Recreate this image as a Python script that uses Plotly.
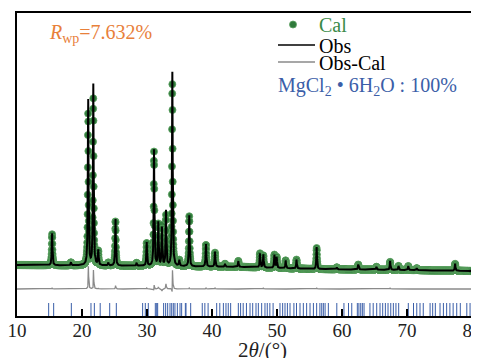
import numpy as np
import plotly.graph_objects as go

# ---- data (y in plot units above the bottom frame) ----
peak_pos = [15.40, 18.30, 20.95, 21.74, 22.50, 24.05, 25.15, 28.40, 29.95, 31.08,
            31.74, 32.30, 32.92, 33.90, 34.97, 36.50, 39.07, 40.46, 42.00, 44.05,
            47.38, 47.90, 49.60, 49.95, 51.33, 53.00, 56.10, 59.20, 62.50, 65.30,
            67.40, 68.70, 70.20, 71.50, 77.40]
obs_height = [32, 3, 170, 181, 15, 3, 48, 3, 24, 116,
              43, 38, 55, 194, 6, 51, 23, 15, 3, 6,
              14, 13, 13, 11, 8, 9, 22, 2, 5, 3,
              9, 4, 4, 2, 7]
cal_pos = [15.40, 18.30, 20.945, 21.736, 22.50, 24.05, 25.148, 28.40, 29.95, 31.078,
           31.74, 32.30, 32.92, 33.895, 34.97, 36.50, 39.07, 40.46, 42.00, 44.05,
           47.38, 47.90, 49.60, 49.95, 51.33, 53.00, 56.10, 59.20, 62.50, 65.30,
           67.40, 68.70, 70.20, 71.50, 77.40]
cal_height = [31, 3, 152, 167, 14, 3, 45, 3, 23, 114,
              41, 40, 50, 183, 6, 50, 22, 14, 3, 6,
              14, 12, 13, 11, 8, 9, 21, 2, 5, 3,
              8, 4, 4, 2, 7]
bg_x = [10, 30, 45, 55, 70, 80]
bg_y = [51, 50, 49, 47, 46, 45]
diff_offset = 27
bragg_pos = [14.87, 15.64, 18.36, 21.38, 21.90, 22.80, 24.26, 25.28, 29.33, 29.74,
             30.20, 31.28, 31.49, 31.64, 32.56, 32.87, 33.18, 33.54, 33.80, 34.05,
             34.30, 34.67, 35.08, 35.33, 35.90, 36.00, 36.72, 38.50, 38.90, 39.40,
             40.72, 41.20, 41.75, 42.15, 42.50, 42.87, 44.05, 44.40, 44.80, 45.30,
             45.85, 46.26, 46.77, 47.13, 47.64, 48.15, 48.50, 48.90, 49.40, 50.46,
             50.87, 51.23, 51.60, 52.00, 52.60, 53.00, 53.54, 54.05, 54.56, 55.08,
             55.60, 56.10, 56.60, 56.88, 57.13, 57.40, 57.90, 59.20, 60.30, 61.00,
             61.50, 62.36, 62.60, 62.88, 63.13, 63.39, 64.30, 64.80, 65.34, 65.85,
             66.26, 66.67, 67.08, 67.50, 67.90, 68.30, 68.72, 70.20, 71.00, 71.50,
             72.00, 72.50, 73.55, 73.95, 74.36, 75.08, 75.60, 76.10, 76.60, 77.10,
             77.65, 78.20, 79.20, 79.70]
bragg_len = 13
x_ticks = [10, 20, 30, 40, 50, 60, 70, 80]
legend_labels = ["Cal", "Obs", "Obs-Cal"]

# ---- profiles on the measurement grid ----
fwhm = 0.12
tt = np.arange(10.0, 80.0001, 0.02)
bg = np.interp(tt, bg_x, bg_y)

def profile(positions, heights):
    y = bg.copy()
    for p, h in zip(positions, heights):
        y += h / (1.0 + (2.0 * (tt - p) / fwhm) ** 2)
    return y

obs = profile(peak_pos, obs_height)
cal = profile(cal_pos, cal_height)
diff = obs - cal + diff_offset

bx, by = [], []
for p in bragg_pos:
    bx += [p, p, None]
    by += [0, bragg_len, None]

serif = "Liberation Serif"
GREEN = "#2f7a3b"

fig = go.Figure()
fig.add_trace(go.Scatter(
    x=tt, y=cal, mode="markers", name=legend_labels[0], showlegend=False,
    marker=dict(size=7, color=GREEN, line=dict(color="rgba(90,160,95,0.8)", width=1))))
fig.add_trace(go.Scatter(x=tt, y=obs, mode="lines", name=legend_labels[1],
                         showlegend=False, line=dict(color="black", width=2)))
fig.add_trace(go.Scatter(x=tt, y=diff, mode="lines", name=legend_labels[2],
                         showlegend=False, line=dict(color="#8a8a8a", width=1.3)))
fig.add_trace(go.Scatter(x=bx, y=by, mode="lines", showlegend=False,
                         line=dict(color="#3a5ea8", width=1)))

# page places the figure 8px in from the top-left (body margin);
# plot area in window pixels: x 17..472, y 13..316
def px(x):
    return (x - 17) / 455.0

def py(y):
    return (316 - y) / 303.0

shapes = [
    dict(type="circle", xref="paper", yref="paper", x0=px(289.5), x1=px(296.5),
         y0=py(28), y1=py(21), fillcolor=GREEN, line=dict(color="rgba(90,160,95,0.8)", width=1)),
    dict(type="line", xref="paper", yref="paper", x0=px(278), x1=px(315),
         y0=py(45), y1=py(45), line=dict(color="black", width=1.6)),
    dict(type="line", xref="paper", yref="paper", x0=px(278), x1=px(315),
         y0=py(62), y1=py(62), line=dict(color="#8a8a8a", width=1.3)),
]

def label(text, x, y, color, size=20, xanchor="left"):
    return dict(text=text, x=px(x), y=py(y), xref="paper", yref="paper",
                xanchor=xanchor, yanchor="middle", showarrow=False,
                font=dict(size=size, family=serif, color=color))

annotations = [
    label(legend_labels[0], 317, 25, "#3a8a48"),
    label(legend_labels[1], 317, 46, "black"),
    label(legend_labels[2], 317, 63, "black"),
    label("MgCl<sub>2</sub> • 6H<sub>2</sub>O : 100%", 276, 86, "#3b5ea8", size=20),
    label("<i>R</i><sub>wp</sub>=7.632%", 47, 33, "#e8803a", size=20),
    label("2<i>θ</i>/(°)", 262, 350, "#222", size=21, xanchor="center"),
]

fig.update_layout(
    width=471, height=350,
    margin=dict(l=9, r=7, t=5, b=42, autoexpand=False),
    paper_bgcolor="white", plot_bgcolor="white",
    font=dict(family=serif, size=18, color="black"),
    showlegend=False,
    xaxis=dict(range=[10, 80], tickvals=x_ticks, ticks="inside", ticklen=7,
               tickwidth=1.5, tickcolor="black", showline=True, linecolor="black",
               linewidth=1.5, mirror=True, showgrid=False, zeroline=False,
               automargin=False, ticklabeloverflow="allow", ticklabelstandoff=-4,
               tickfont=dict(size=19, family=serif, color="#222")),
    yaxis=dict(range=[0, 303], showticklabels=False, ticks="", showline=True,
               linecolor="black", linewidth=1.5, mirror=True, showgrid=False,
               zeroline=False, automargin=False),
    shapes=shapes,
    annotations=annotations,
)

fig.write_html("out.html")
